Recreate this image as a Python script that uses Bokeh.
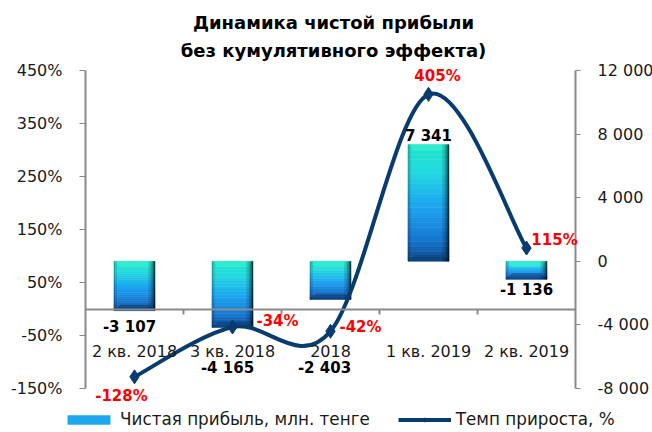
import numpy as np
from bokeh.plotting import figure
from bokeh.models import (Range1d, LinearAxis, FixedTicker, ColumnDataSource, LabelSet,
                          Label, Legend, LegendItem, PrintfTickFormatter)
from bokeh.core.properties import value
from bokeh.embed import file_html
from bokeh.resources import INLINE

# ---------------- data ----------------
categories = ["2 кв. 2018", "3 кв. 2018", "2018", "1 кв. 2019", "2 кв. 2019"]
profit = [-3107, -4165, -2403, 7341, -1136]
profit_labels = ["-3 107", "-4 165", "-2 403", "7 341", "-1 136"]
growth = [-128, -34, -42, 405, 115]
growth_labels = ["-128%", "-34%", "-42%", "405%", "115%"]
left_ticks = [-150, -50, 50, 150, 250, 350, 450]
right_ticks = [-8000, -4000, 0, 4000, 8000, 12000]
right_tick_labels = ["-8 000", "-4 000", "0", "4 000", "8 000", "12 000"]
title_lines = ["Динамика чистой прибыли", "без кумулятивного эффекта)"]
series_names = ["Чистая прибыль, млн. тенге", "Темп прироста, %"]

# ---------------- layout / style ----------------
FONT = "DejaVu Sans"
GRAY = "#8a8a8a"
NAVY = "#083c6e"
RED = "#ff0000"
W, H = 652, 432
FL, FR, FT, FB = 85, 575, 70, 388        # plot-area box in pixels
n = len(categories)
xs = [i + 0.5 for i in range(n)]
BAR_W = 0.42
L0, L1 = left_ticks[0], left_ticks[-1]
R0, R1 = right_ticks[0], right_ticks[-1]

xpp = n / (FR - FL)                       # data units per pixel
lpp = (L1 - L0) / (FB - FT)
rpp = (R1 - R0) / (FB - FT)


def px_x(px):
    return (px - FL) * xpp


def px_ly(py):
    return L1 + (FT - py) * lpp


p = figure(width=W, height=H,
           x_range=Range1d(-FL * xpp, n + (W - FR) * xpp),
           y_range=Range1d(L0 - (H - FB) * lpp, L1 + FT * lpp),
           output_backend="svg", toolbar_location=None,
           min_border_left=0, min_border_right=0, min_border_top=0, min_border_bottom=0)
p.extra_y_ranges = {"right": Range1d(R0 - (H - FB) * rpp, R1 + FT * rpp)}
p.outline_line_color = None
p.grid.visible = False
p.background_fill_color = "white"
p.border_fill_color = "white"

# x axis (category axis crossing at 0%)
xa = p.xaxis[0]
xa.fixed_location = 0
xa.bounds = (0, n)
xa.ticker = FixedTicker(ticks=xs, minor_ticks=[float(i) for i in range(1, n)])
xa.major_label_overrides = {x: c for x, c in zip(xs, categories)}
xa.axis_line_color = GRAY
xa.axis_line_width = 2
xa.major_tick_line_color = None
xa.major_tick_out = 0
xa.major_tick_in = 0
xa.minor_tick_line_color = GRAY
xa.minor_tick_out = 5
xa.minor_tick_in = 0
xa.minor_tick_line_width = 2
xa.major_label_standoff = 28
xa.major_label_text_font = FONT
xa.major_label_text_font_size = "16px"
xa.major_label_text_color = "#1a1a1a"

# left axis
ya = p.yaxis[0]
ya.fixed_location = 0
ya.bounds = (L0, L1)
ya.ticker = FixedTicker(ticks=left_ticks)
ya.formatter = PrintfTickFormatter(format="%d%%")
ya.axis_line_color = GRAY
ya.axis_line_width = 2
ya.major_tick_line_color = GRAY
ya.major_tick_out = 6
ya.major_tick_in = 0
ya.minor_tick_line_color = None
ya.major_label_standoff = 17
ya.major_label_text_font = FONT
ya.major_label_text_font_size = "16px"
ya.major_label_text_color = "#1a1a1a"

# right axis
ra = LinearAxis(y_range_name="right", ticker=FixedTicker(ticks=right_ticks),
                major_label_overrides={t: l for t, l in zip(right_ticks, right_tick_labels)})
ra.fixed_location = n
ra.bounds = (R0, R1)
ra.axis_line_color = GRAY
ra.axis_line_width = 2
ra.major_tick_line_color = GRAY
ra.major_tick_out = 5
ra.major_tick_in = 0
ra.minor_tick_line_color = None
ra.major_label_standoff = 17
ra.major_label_text_font = FONT
ra.major_label_text_font_size = "16px"
ra.major_label_text_color = "#1a1a1a"
p.add_layout(ra, "right")

# ---------------- bars (vertical gradient bands) ----------------
stops = [(0.0, "#1fe6c4"), (0.22, "#22dbe0"), (0.55, "#1ca2f0"), (0.82, "#1676d0"), (1.0, "#0b4a88")]


def hex2rgb(h):
    return np.array([int(h[i:i + 2], 16) for i in (1, 3, 5)], dtype=float)


def interp(t):
    for (t0, c0), (t1, c1) in zip(stops[:-1], stops[1:]):
        if t <= t1:
            f = (t - t0) / (t1 - t0)
            c = hex2rgb(c0) * (1 - f) + hex2rgb(c1) * f
            return "#%02x%02x%02x" % tuple(int(round(v)) for v in c)
    return stops[-1][1]


NB = 24
bl, br, bt, bb, bc = [], [], [], [], []
for x, v in zip(xs, profit):
    top_v, bot_v = max(0, v), min(0, v)
    for k in range(NB):
        bl.append(x - BAR_W / 2)
        br.append(x + BAR_W / 2)
        bt.append(top_v - (top_v - bot_v) * k / NB)
        bb.append(top_v - (top_v - bot_v) * (k + 1) / NB)
        bc.append(interp((k + 0.5) / NB))
bands = p.quad(left=bl, right=br, top=bt, bottom=bb, fill_color=bc, line_color=bc,
               line_width=0.5, y_range_name="right")

# bevel: top (light) and bottom (dark) trapezoids, side shading
BEV = 6  # px
dx, dy = BEV * xpp, BEV * rpp
txs, tys, dxs, dys = [], [], [], []
for x, v in zip(xs, profit):
    top_v, bot_v = max(0, v), min(0, v)
    a, b = x - BAR_W / 2, x + BAR_W / 2
    txs.append([a, b, b - dx, a + dx]); tys.append([top_v, top_v, top_v - dy, top_v - dy])
    dxs.append([a, b, b - dx, a + dx]); dys.append([bot_v, bot_v, bot_v + dy, bot_v + dy])
p.patches(txs, tys, fill_color="#3ef2d6", fill_alpha=0.55, line_color=None, y_range_name="right")
p.patches(dxs, dys, fill_color="#08386e", fill_alpha=0.45, line_color=None, y_range_name="right")

sl, sr, st, sb, sa = [], [], [], [], []
for x, v in zip(xs, profit):
    top_v, bot_v = max(0, v), min(0, v)
    for a, w in [(0.12, 0.07), (0.18, 0.045), (0.3, 0.025), (0.45, 0.012)]:
        sl.append(x + BAR_W / 2 - w); sr.append(x + BAR_W / 2)
        st.append(top_v); sb.append(bot_v); sa.append(a)
    for a, w in [(0.12, 0.03), (0.12, 0.012)]:
        sl.append(x - BAR_W / 2); sr.append(x - BAR_W / 2 + w)
        st.append(top_v); sb.append(bot_v); sa.append(a)
p.quad(left=sl, right=sr, top=st, bottom=sb, fill_color="#000000", fill_alpha=sa,
       line_color=None, y_range_name="right")

# ---------------- smoothed line (Bezier through data points) ----------------
P = list(zip(xs, growth))
x0, y0, x1, y1, cx0, cy0, cx1, cy1 = [], [], [], [], [], [], [], []
for i in range(n - 1):
    pm = P[i - 1] if i > 0 else P[i]
    pa, pb = P[i], P[i + 1]
    pn = P[i + 2] if i + 2 < n else P[i + 1]
    x0.append(pa[0]); y0.append(pa[1]); x1.append(pb[0]); y1.append(pb[1])
    cx0.append(pa[0] + (pb[0] - pm[0]) / 6); cy0.append(pa[1] + (pb[1] - pm[1]) / 6)
    cx1.append(pb[0] - (pn[0] - pa[0]) / 6); cy1.append(pb[1] - (pn[1] - pa[1]) / 6)
curve = p.bezier(x0=x0, y0=y0, x1=x1, y1=y1, cx0=cx0, cy0=cy0, cx1=cx1, cy1=cy1,
                 line_color=NAVY, line_width=4)
marks = p.scatter(xs, growth, marker="diamond", size=14, fill_color=NAVY, line_color=NAVY)

# ---------------- data labels ----------------
bar_dx = [-5, -5, -6, 0, 0]
bar_dy = [-16, -40, -68, 9, -11]
bsrc = ColumnDataSource(dict(x=xs, y=profit, t=profit_labels, dx=bar_dx, dy=bar_dy))
p.add_layout(LabelSet(x="x", y="y", text="t", x_offset="dx", y_offset="dy", source=bsrc,
                      y_range_name="right", text_align="center", text_baseline="middle",
                      text_font=value(FONT), text_font_style="bold", text_font_size="15px",
                      text_color="#000000"))

g_dx = [-13, 45, 30, 9, 28]
g_dy = [-19, 6, 4, 18, 8]
gsrc = ColumnDataSource(dict(x=xs, y=growth, t=growth_labels, dx=g_dx, dy=g_dy))
p.add_layout(LabelSet(x="x", y="y", text="t", x_offset="dx", y_offset="dy", source=gsrc,
                      text_align="center", text_baseline="middle",
                      text_font=value(FONT), text_font_style="bold", text_font_size="15px",
                      text_color=RED))

# ---------------- title ----------------
for line, py in zip(title_lines, [22, 50]):
    p.add_layout(Label(x=px_x(333), y=px_ly(py), text=line,
                       text_align="center", text_baseline="middle", text_font=FONT,
                       text_font_style="bold", text_font_size="18px", text_color="#000000"))

# ---------------- legend ----------------
legend = Legend(items=[LegendItem(label=series_names[0], renderers=[bands], index=NB // 2),
                       LegendItem(label=series_names[1], renderers=[curve, marks])],
                orientation="horizontal", location=(62, 3),
                glyph_width=53, glyph_height=11, label_standoff=5, spacing=28,
                padding=0, margin=0, border_line_color=None, background_fill_alpha=0,
                label_text_font=FONT, label_text_font_size="16.8px", label_text_color="#1a1a1a",
                label_height=20)
p.add_layout(legend)

open("out.html", "w").write(file_html(p, INLINE))
